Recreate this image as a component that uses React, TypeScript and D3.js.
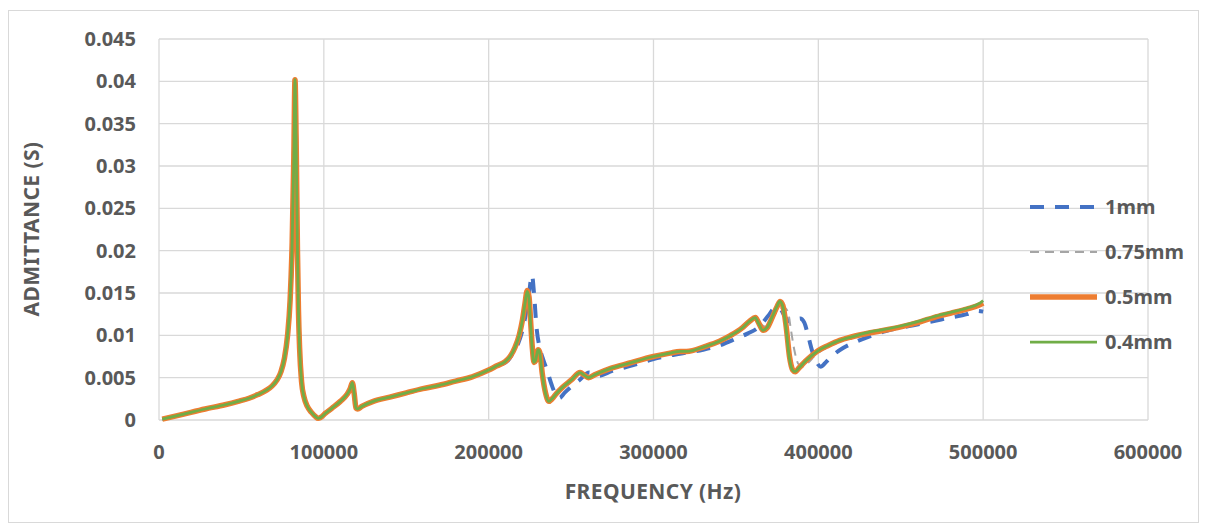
import React, { useEffect } from "react";
import * as d3 from "d3";

// ---------- DATA ----------
const xTicks = [0, 100000, 200000, 300000, 400000, 500000, 600000];
const xTickLabels = ["0", "100000", "200000", "300000", "400000", "500000", "600000"];
const yTicks = [0, 0.005, 0.01, 0.015, 0.02, 0.025, 0.03, 0.035, 0.04, 0.045];
const yTickLabels = ["0", "0.005", "0.01", "0.015", "0.02", "0.025", "0.03", "0.035", "0.04", "0.045"];

// shared low-frequency part (all thicknesses)
const baseFreq = [2000, 15000, 28000, 40000, 48000, 55000, 60000, 65000, 68500, 71500, 74000, 76000, 78000, 79500, 80800, 81800, 82500, 83200, 84000, 84600, 85300, 86500, 88000, 90000, 92500, 95000, 96500, 98000, 101000, 105000, 110000, 114000, 116000, 117300, 118500, 119500, 120500, 123000, 130000, 140000, 150000, 160000, 170000, 180000, 190000, 200000, 205000];
const baseAdm = [0.0001, 0.0007, 0.0013, 0.0018, 0.0022, 0.0026, 0.003, 0.0035, 0.004, 0.0047, 0.0057, 0.0072, 0.01, 0.014, 0.021, 0.031, 0.0402, 0.033, 0.02, 0.013, 0.0085, 0.0045, 0.0027, 0.0016, 0.0009, 0.0004, 0.0002, 0.0003, 0.0008, 0.0014, 0.0022, 0.003, 0.0037, 0.0044, 0.003, 0.0014, 0.0013, 0.0016, 0.0022, 0.0027, 0.0032, 0.0037, 0.0041, 0.0046, 0.0051, 0.0059, 0.0064];

// 1mm
const freq1mm = [208000, 212000, 215000, 218000, 220500, 222500, 224500, 226300, 227500, 229000, 231000, 233000, 235500, 238500, 241500, 243000, 246000, 250000, 255000, 261000, 263500, 266000, 275000, 290000, 300000, 315000, 330000, 340000, 350000, 357000, 364000, 370000, 374000, 377000, 380000, 383000, 386000, 389000, 391500, 394000, 396500, 399000, 401500, 404000, 408000, 415000, 420000, 430000, 441000, 455000, 468000, 480000, 490000, 496000, 500000];
const adm1mm = [0.0066, 0.0071, 0.008, 0.0091, 0.0106, 0.0125, 0.015, 0.0171, 0.015, 0.011, 0.0085, 0.0072, 0.0058, 0.004, 0.0027, 0.0026, 0.0032, 0.0039, 0.0047, 0.0056, 0.0054, 0.0052, 0.0058, 0.0066, 0.0072, 0.0078, 0.0083, 0.0088, 0.0096, 0.0102, 0.011, 0.0124, 0.0133, 0.0131, 0.0121, 0.0116, 0.0118, 0.012, 0.0115, 0.0098, 0.008, 0.0068, 0.0063, 0.0067, 0.0075, 0.0085, 0.009, 0.0098, 0.0105, 0.0111, 0.0116, 0.0121, 0.0125, 0.0129, 0.0128];

// 0.5mm
const freq05mm = [210000, 213000, 216000, 218500, 220500, 222000, 223400, 224500, 225500, 226500, 227500, 228500, 230000, 231000, 232500, 234500, 236500, 238500, 241000, 245000, 250000, 255500, 258000, 260500, 265000, 274000, 285000, 300000, 310000, 316000, 320000, 331500, 340000, 346000, 354000, 358500, 361800, 364000, 366500, 369000, 372000, 375000, 376800, 378500, 380500, 382500, 384500, 386000, 388500, 392000, 396000, 400000, 406000, 413000, 420000, 431500, 440000, 450000, 461800, 470000, 480000, 490000, 498000, 500000];
const adm05mm = [0.0069, 0.0075, 0.0086, 0.01, 0.0118, 0.0137, 0.0153, 0.0145, 0.0115, 0.0085, 0.0068, 0.007, 0.0083, 0.008, 0.0055, 0.0032, 0.0022, 0.0025, 0.0031, 0.0039, 0.0047, 0.0056, 0.0053, 0.005, 0.0054, 0.0061, 0.0067, 0.0075, 0.0079, 0.0081, 0.0081, 0.0087, 0.0093, 0.0099, 0.0109, 0.0117, 0.0121, 0.0114, 0.0106, 0.0109, 0.0121, 0.0134, 0.014, 0.0135, 0.011, 0.0075, 0.0059, 0.0057, 0.0062, 0.0069, 0.0076, 0.0082, 0.0088, 0.0094, 0.0098, 0.0103, 0.0106, 0.011, 0.0116, 0.0121, 0.0126, 0.0131, 0.0136, 0.0138];

// 0.75mm
const freq075mm = [210000, 213000, 216000, 218500, 220500, 222200, 223700, 224800, 225800, 226800, 227800, 228800, 230300, 231300, 232800, 234800, 236800, 238800, 241000, 245000, 250000, 255500, 258000, 260500, 265000, 274000, 285000, 300000, 310000, 316000, 320000, 331500, 340000, 346000, 354000, 358500, 362500, 366000, 368500, 372000, 376000, 379000, 381500, 383500, 385500, 388000, 391000, 394000, 398000, 403000, 410000, 420000, 431500, 440000, 450000, 461800, 470000, 480000, 490000, 498000, 500000];
const adm075mm = [0.0069, 0.0075, 0.0085, 0.0099, 0.0116, 0.0135, 0.0151, 0.0143, 0.0113, 0.0084, 0.0068, 0.007, 0.0082, 0.0079, 0.0055, 0.0032, 0.0022, 0.0025, 0.0031, 0.0039, 0.0047, 0.0056, 0.0053, 0.005, 0.0054, 0.0061, 0.0067, 0.0075, 0.0079, 0.0081, 0.0081, 0.0087, 0.0093, 0.0099, 0.0108, 0.0115, 0.0121, 0.0112, 0.011, 0.012, 0.013, 0.0133, 0.0128, 0.0105, 0.0082, 0.0066, 0.0063, 0.0068, 0.0076, 0.0083, 0.009, 0.0097, 0.0102, 0.0105, 0.0109, 0.0115, 0.012, 0.0125, 0.013, 0.0135, 0.0137];

// 0.4mm
const freq04mm = [210000, 213000, 216000, 218500, 220500, 222000, 223300, 224400, 225400, 226400, 227400, 228400, 229900, 230900, 232400, 234400, 236400, 238400, 241000, 245000, 250000, 255500, 258000, 260500, 265000, 274000, 285000, 300000, 310000, 316000, 320000, 331500, 340000, 346000, 354000, 358500, 361600, 363800, 366300, 368800, 371800, 374800, 376600, 378300, 380300, 382300, 384300, 385800, 388500, 392000, 396000, 400000, 406000, 413000, 420000, 431500, 440000, 450000, 461800, 470000, 480000, 490000, 498000, 500000];
const adm04mm = [0.0069, 0.0075, 0.0086, 0.01, 0.0118, 0.0137, 0.0152, 0.0145, 0.0115, 0.0085, 0.0068, 0.007, 0.0083, 0.008, 0.0055, 0.0032, 0.0022, 0.0025, 0.0031, 0.0039, 0.0047, 0.0056, 0.0053, 0.005, 0.0054, 0.0061, 0.0067, 0.0075, 0.0079, 0.0081, 0.0081, 0.0087, 0.0093, 0.0099, 0.0109, 0.0117, 0.0121, 0.0114, 0.0106, 0.0109, 0.0121, 0.0134, 0.014, 0.0135, 0.011, 0.0075, 0.0059, 0.0057, 0.0062, 0.0069, 0.0076, 0.0082, 0.0088, 0.0094, 0.0098, 0.0104, 0.0107, 0.0111, 0.0117, 0.0122, 0.0127, 0.0132, 0.0138, 0.0141];

const seriesNames = ["1mm", "0.75mm", "0.5mm", "0.4mm"];
const seriesFreqs = [freq1mm, freq075mm, freq05mm, freq04mm];
const seriesAdms = [adm1mm, adm075mm, adm05mm, adm04mm];

// ---------- STYLE ----------
const styles = [
  { color: "#4472C4", width: 4, dash: "14,11" },
  { color: "#A5A5A5", width: 2, dash: "9,6" },
  { color: "#ED7D31", width: 5.5, dash: "" },
  { color: "#70AD47", width: 2.75, dash: "" },
];

const W = 1207;
const H = 531;
const FONT = "'Noto Sans', 'Open Sans', sans-serif";
const TEXT = "#595959";

export default function App() {
  useEffect(() => {
    document.body.style.margin = "0";
  }, []);

  const x = d3.scaleLinear().domain([0, 600000]).range([159, 1148]);
  const y = d3.scaleLinear().domain([0, 0.045]).range([420, 39]);

  const line = d3
    .line<[number, number]>()
    .x((d) => x(d[0]))
    .y((d) => y(d[1]))
    .curve(d3.curveMonotoneX);

  const seriesData = seriesFreqs.map((fs, i) => {
    const pts: [number, number][] = baseFreq.map((f, j) => [f, baseAdm[j]] as [number, number]);
    fs.forEach((f, j) => pts.push([f, seriesAdms[i][j]]));
    return pts;
  });

  const legendY = [207, 252, 297, 342];

  return (
    <svg width={W} height={H} style={{ display: "block" }} fontFamily={FONT}>
      <rect x={0} y={0} width={W} height={H} fill="#fff" />
      <rect x={8.5} y={10.5} width={1190} height={512} fill="#fff" stroke="#D9D9D9" strokeWidth={1} />
      {/* gridlines */}
      {yTicks.map((t) => (
        <line key={"gy" + t} x1={x(0)} x2={x(600000)} y1={y(t)} y2={y(t)} stroke="#D9D9D9" strokeWidth={1.3} />
      ))}
      {xTicks.map((t) => (
        <line key={"gx" + t} x1={x(t)} x2={x(t)} y1={y(0)} y2={y(0.045)} stroke="#D9D9D9" strokeWidth={1.3} />
      ))}
      {/* tick labels */}
      {yTicks.map((t, i) => (
        <text key={"ly" + t} x={136} y={y(t) + 7} textAnchor="end" fontSize={20} fontWeight="bold" fill={TEXT}>
          {yTickLabels[i]}
        </text>
      ))}
      {xTicks.map((t, i) => (
        <text key={"lx" + t} x={x(t)} y={459} textAnchor="middle" fontSize={20} fontWeight="bold" fill={TEXT}>
          {xTickLabels[i]}
        </text>
      ))}
      {/* axis titles */}
      <text x={653} y={499} textAnchor="middle" fontSize={21} fontWeight="bold" fill={TEXT} letterSpacing={0.4}>
        FREQUENCY (Hz)
      </text>
      <text
        transform="translate(39,229) rotate(-90)"
        textAnchor="middle"
        fontSize={21}
        fontWeight="bold"
        fill={TEXT}
        letterSpacing={0.4}
      >
        ADMITTANCE (S)
      </text>
      {/* series */}
      {seriesData.map((pts, i) => (
        <path
          key={seriesNames[i]}
          d={line(pts) || ""}
          fill="none"
          stroke={styles[i].color}
          strokeWidth={styles[i].width}
          strokeDasharray={styles[i].dash || undefined}
          strokeLinejoin="round"
        />
      ))}
      {/* legend */}
      {seriesNames.map((n, i) => (
        <g key={"lg" + n}>
          <line
            x1={1030}
            x2={1097}
            y1={legendY[i]}
            y2={legendY[i]}
            stroke={styles[i].color}
            strokeWidth={styles[i].width}
            strokeDasharray={styles[i].dash || undefined}
          />
          <text x={1105} y={legendY[i] + 7} fontSize={20} fontWeight="bold" fill={TEXT}>
            {n}
          </text>
        </g>
      ))}
    </svg>
  );
}
